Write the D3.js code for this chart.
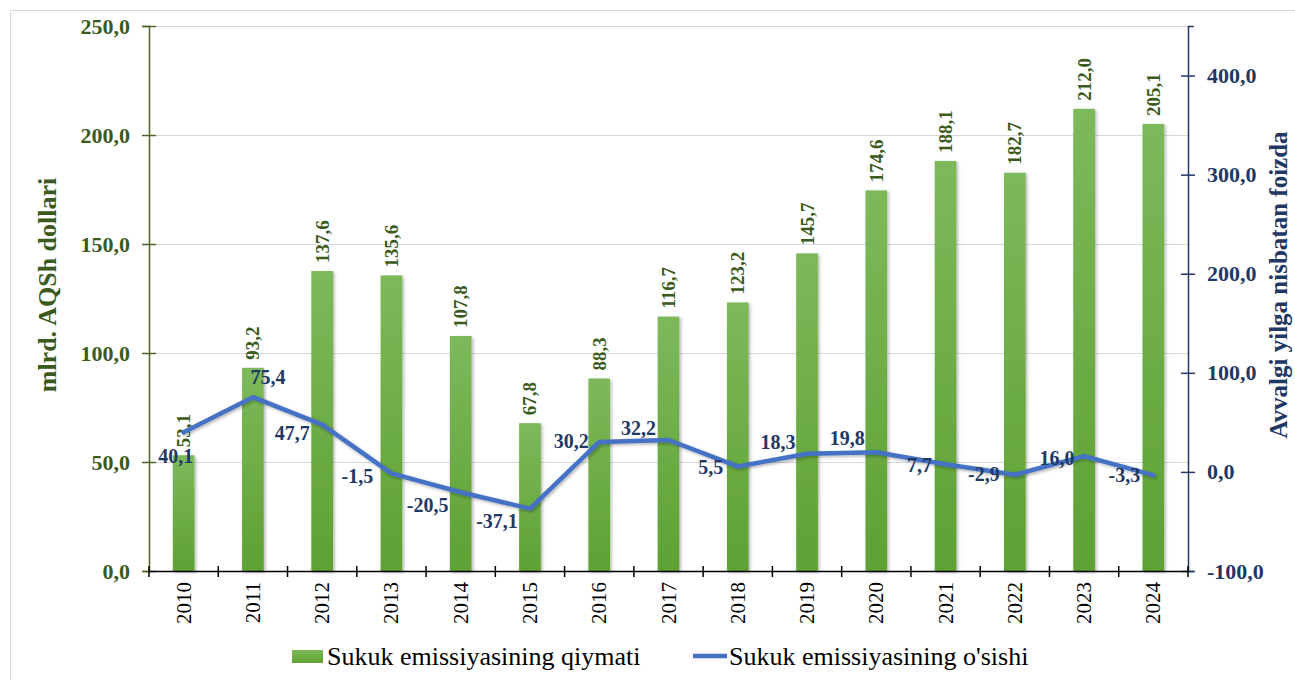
<!DOCTYPE html>
<html><head><meta charset="utf-8">
<script src="https://cdn.jsdelivr.net/npm/d3@7"></script>
<style>
html,body{margin:0;padding:0;background:#fff;}
svg{display:block;}
text{font-family:"Liberation Serif","Times New Roman",serif;}
</style></head>
<body>
<svg id="chart" width="1295" height="680"></svg>
<script>
const years = ["2010","2011","2012","2013","2014","2015","2016","2017","2018","2019","2020","2021","2022","2023","2024"];
const issuanceValues = [53.1,93.2,137.6,135.6,107.8,67.8,88.3,116.7,123.2,145.7,174.6,188.1,182.7,212.0,205.1];
const growthValues = [40.1,75.4,47.7,-1.5,-20.5,-37.1,30.2,32.2,5.5,18.3,19.8,7.7,-2.9,16.0,-3.3];
const leftTicks = [0,50,100,150,200,250];
const rightTicks = [-100,0,100,200,300,400];
const seriesNames = ["Sukuk emissiyasining qiymati","Sukuk emissiyasining o'sishi"];
const axisTitles = ["mlrd. AQSh dollari","Avvalgi yilga nisbatan foizda"];
// label placement offsets for the line labels (dx, dy relative to point)
const lineLabelOffsets = [[-8,24],[15,-20],[-30,8],[-34,3],[-33,13],[-33,12],[-28,-1],[-30,-12],[-27,1],[-29,-12],[-29,-14],[-26,1],[-31,-1],[-27,2],[-29,0]];

const fmtLocale = d3.formatLocale({decimal:",",thousands:" ",grouping:[3],currency:["",""],minus:"-"});
const fmt = fmtLocale.format(".1f");

const svg = d3.select("#chart");
const L = 149, R = 1188, T = 26, B = 571;
const green = "#3b5a20", navy = "#1f3864", lineColor = "#4472c4";

const defs = svg.append("defs");
const grad = defs.append("linearGradient").attr("id","barGrad").attr("x1",0).attr("y1",0).attr("x2",0).attr("y2",1);
grad.append("stop").attr("offset","0%").attr("stop-color","#7db95a");
grad.append("stop").attr("offset","100%").attr("stop-color","#5ea133");
const sh = defs.append("filter").attr("id","shadow").attr("x","-20%").attr("y","-20%").attr("width","150%").attr("height","150%");
sh.append("feDropShadow").attr("dx",1.5).attr("dy",1.5).attr("stdDeviation",1.5).attr("flood-color","#000").attr("flood-opacity",0.3);

// outer border
svg.append("path").attr("d","M10.5,690 V10.5 H1300").attr("fill","none").attr("stroke","#d9d9d9").attr("stroke-width",1);

const x = d3.scaleBand().domain(years).range([L,R]).paddingInner(0).paddingOuter(0);
const yL = d3.scaleLinear().domain([0,250]).range([B,T]);
const yR = d3.scaleLinear().domain([-100,450]).range([B,T]);
const barW = x.bandwidth()*0.313;

// gridlines
svg.append("g").selectAll("line").data(leftTicks.filter(d=>d>0)).join("line")
  .attr("x1",L).attr("x2",R).attr("y1",d=>yL(d)+0.5).attr("y2",d=>yL(d)+0.5)
  .attr("stroke","#d9d9d9").attr("stroke-width",1);

// bars
svg.append("g").selectAll("rect").data(issuanceValues).join("rect")
  .attr("x",(d,i)=>x(years[i])+x.bandwidth()/2-barW/2)
  .attr("y",d=>yL(d)).attr("width",barW).attr("height",d=>B-yL(d))
  .attr("fill","url(#barGrad)").attr("filter","url(#shadow)");

// bar labels
svg.append("g").selectAll("text").data(issuanceValues).join("text")
  .attr("transform",(d,i)=>`translate(${x(years[i])+x.bandwidth()/2+6.5},${yL(d)-8}) rotate(-90)`)
  .attr("text-anchor","start").attr("font-size",19).attr("font-weight","bold").attr("fill",green)
  .text(d=>fmt(d));

// left axis
const axL = svg.append("g").attr("transform",`translate(${L},0)`)
  .call(d3.axisLeft(yL).tickValues(leftTicks).tickFormat(fmt).tickSize(6).tickPadding(14));
axL.select(".domain").attr("stroke","#4f6228").attr("stroke-width",1.5);
axL.selectAll(".tick line").attr("stroke","#4f6228").attr("stroke-width",1.5).attr("x2",-7).attr("x1",7);
axL.selectAll(".tick text").attr("fill",green).attr("font-size",22).attr("font-weight","bold")
  .attr("font-family","'Liberation Serif',serif").attr("x",-19);

// right axis
const axR = svg.append("g").attr("transform",`translate(${R},0)`)
  .call(d3.axisRight(yR).tickValues(rightTicks).tickFormat(fmt).tickSize(6).tickPadding(14));
axR.select(".domain").attr("stroke",navy).attr("stroke-width",1.5);
axR.selectAll(".tick line").attr("stroke",navy).attr("stroke-width",1.5).attr("x1",-7).attr("x2",7);
axR.selectAll(".tick text").attr("fill",navy).attr("font-size",22).attr("font-weight","bold")
  .attr("font-family","'Liberation Serif',serif").attr("x",19);

// bottom axis
const axB = svg.append("g").attr("transform",`translate(0,${B})`)
  .call(d3.axisBottom(x).tickSize(0).tickFormat(""));
axB.select(".domain").attr("stroke","#000").attr("stroke-width",1.5);
const bounds = years.map(y=>x(y)).concat([R]);
axB.append("g").selectAll("line").data(bounds).join("line")
  .attr("x1",d=>d).attr("x2",d=>d).attr("y1",-5).attr("y2",6).attr("stroke","#000").attr("stroke-width",1.5);
svg.append("g").selectAll("text").data(years).join("text")
  .attr("transform",d=>`translate(${x(d)+x.bandwidth()/2+7},${B+11}) rotate(-90)`)
  .attr("text-anchor","end").attr("font-size",21).attr("fill","#000").text(d=>d);

// line
const pts = growthValues.map((v,i)=>[x(years[i])+x.bandwidth()/2, yR(v)]);
svg.append("path").datum(pts).attr("d",d3.line())
  .attr("fill","none").attr("stroke",lineColor).attr("stroke-width",4.5)
  .attr("stroke-linejoin","round").attr("stroke-linecap","round").attr("filter","url(#shadow)");

// line labels
svg.append("g").selectAll("text").data(growthValues).join("text")
  .attr("x",(d,i)=>pts[i][0]+lineLabelOffsets[i][0])
  .attr("y",(d,i)=>pts[i][1]+lineLabelOffsets[i][1])
  .attr("dy","0.35em").attr("text-anchor","middle")
  .attr("font-size",20).attr("font-weight","bold").attr("fill",navy)
  .text(d=>fmt(d));

// axis titles
svg.append("text").attr("transform",`translate(56,285) rotate(-90)`)
  .attr("text-anchor","middle").attr("font-size",26).attr("font-weight","bold").attr("fill",green)
  .text(axisTitles[0]);
svg.append("text").attr("transform",`translate(1287,285) rotate(-90)`)
  .attr("text-anchor","middle").attr("font-size",25).attr("font-weight","bold").attr("fill",navy)
  .text(axisTitles[1]);

// legend
const lg = svg.append("g");
lg.append("rect").attr("x",292).attr("y",650).attr("width",31).attr("height",13).attr("fill","url(#barGrad)");
lg.append("text").attr("x",327).attr("y",665).attr("font-size",26).attr("fill","#000").text(seriesNames[0]);
lg.append("line").attr("x1",693).attr("x2",727).attr("y1",656).attr("y2",656).attr("stroke",lineColor).attr("stroke-width",4.5);
lg.append("text").attr("x",729).attr("y",665).attr("font-size",26).attr("fill","#000").text(seriesNames[1]);
</script>
</body></html>
